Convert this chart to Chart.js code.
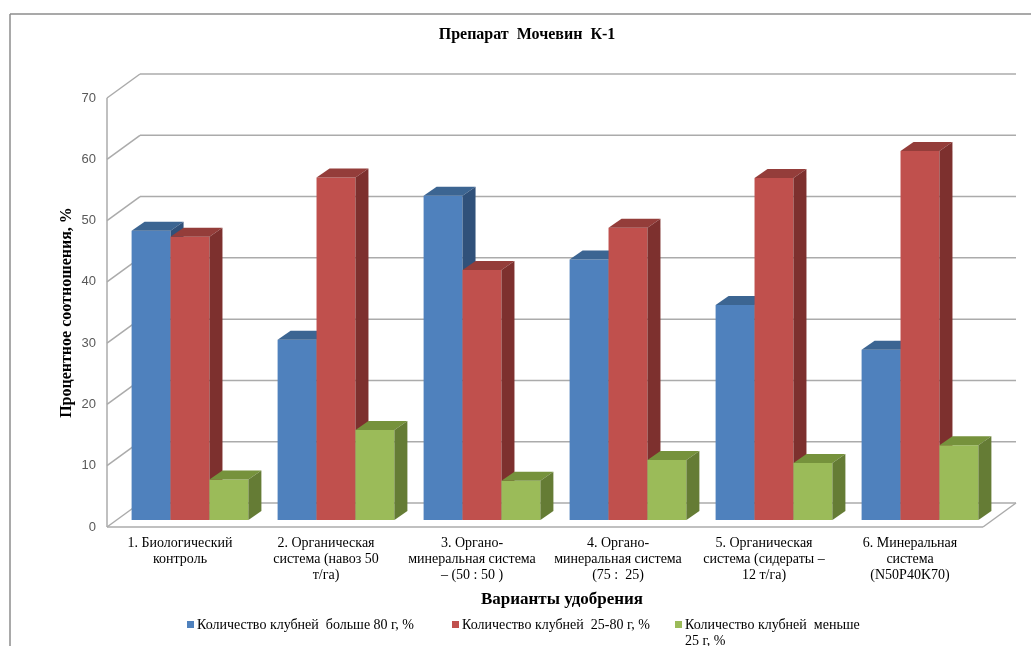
<!DOCTYPE html>
<html lang="ru">
<head>
<meta charset="utf-8">
<title>Препарат Мочевин К-1</title>
<script src="https://cdn.jsdelivr.net/npm/chart.js@4.4.1/dist/chart.umd.min.js"></script>
<style>
    html, body { margin: 0; padding: 0; background: #fff; }
    #wrap { width: 1031px; height: 646px; position: relative; }
</style>
</head>
<body>
<div id="wrap"><canvas id="chart" width="1031" height="646"></canvas></div>
<script>
// Fertiliser variants (multi-line axis labels)
const categories = [
    ['1. Биологический', 'контроль'],
    ['2. Органическая', 'система (навоз 50', 'т/га)'],
    ['3. Органо-', 'минеральная система', '– (50 : 50 )'],
    ['4. Органо-', 'минеральная система', '(75 :  25)'],
    ['5. Органическая', 'система (сидераты –', '12 т/га)'],
    ['6. Минеральная', 'система', '(N50P40K70)']
];

// Share of tubers by weight class, %
const bigTubers   = [47.2, 29.4, 52.9, 42.5, 35.1, 27.8];
const midTubers   = [46.2, 55.9, 40.8, 47.7, 55.8, 60.2];
const smallTubers = [6.6, 14.7, 6.4, 9.8, 9.3, 12.2];

const seriesNames = [
    'Количество клубней  больше 80 г, %',
    'Количество клубней  25-80 г, %',
    'Количество клубней  меньше\n25 г, %'
];

const yTicks = [0, 10, 20, 30, 40, 50, 60, 70];

const SERIF = '"Liberation Serif", "Times New Roman", serif';
const SANS = '"Liberation Sans", Arial, sans-serif';

// face colours: front / top / side
const palette = [
    { front: '#4F81BD', top: '#3c6592', side: '#30517a' },
    { front: '#C0504D', top: '#943d3a', side: '#7d302e' },
    { front: '#9BBB59', top: '#76923c', side: '#657c35' }
];

// oblique projection offsets
const WALL_DEPTH = { x: 33, y: -24 };
const BAR_SHIFT = { x: 10, y: -7 };
const BAR_DEPTH = { x: 13, y: -9 };

function poly(ctx, pts, fill) {
    ctx.beginPath();
    ctx.moveTo(pts[0][0], pts[0][1]);
    for (let i = 1; i < pts.length; i++) ctx.lineTo(pts[i][0], pts[i][1]);
    ctx.closePath();
    ctx.fillStyle = fill;
    ctx.fill();
}

function line(ctx, x1, y1, x2, y2) {
    ctx.beginPath();
    ctx.moveTo(x1, y1);
    ctx.lineTo(x2, y2);
    ctx.stroke();
}

const box3d = {
    id: 'box3d',
    beforeDraw(chart) {
        const { ctx, chartArea: area } = chart;
        const yScale = chart.scales.y;
        ctx.save();
        ctx.fillStyle = '#fff';
        ctx.fillRect(0, 0, chart.width, chart.height);

        // outer frame
        ctx.strokeStyle = '#8c8c8c';
        ctx.lineWidth = 1.5;
        line(ctx, 10, 14, chart.width, 14);
        line(ctx, 10, 14, 10, chart.height);

        // side wall, back wall and floor
        ctx.lineWidth = 1.5;
        ctx.strokeStyle = '#ababab';
        const L = area.left, R = area.right;
        line(ctx, L, yScale.getPixelForValue(yTicks[yTicks.length - 1]), L, yScale.getPixelForValue(0));
        yTicks.forEach(v => {
            const y = yScale.getPixelForValue(v);
            line(ctx, L, y, L + WALL_DEPTH.x, y + WALL_DEPTH.y);
            line(ctx, L + WALL_DEPTH.x, y + WALL_DEPTH.y, R + WALL_DEPTH.x, y + WALL_DEPTH.y);
        });
        const y0 = yScale.getPixelForValue(0);
        line(ctx, L, y0, R, y0);
        line(ctx, R, y0, R + WALL_DEPTH.x, y0 + WALL_DEPTH.y);
        ctx.restore();
    },
    beforeDatasetsDraw(chart) {
        const { ctx } = chart;
        const metas = chart.data.datasets.map((d, i) => chart.getDatasetMeta(i));
        ctx.save();
        ctx.translate(BAR_SHIFT.x, BAR_SHIFT.y);
        // left to right so each bar hides the side of its neighbour
        for (let i = 0; i < categories.length; i++) {
            metas.forEach((meta, s) => {
                const bar = meta.data[i];
                const { x, y, base, width } = bar;
                const l = x - width / 2, r = x + width / 2;
                bar.draw(ctx);
                poly(ctx, [[l, y], [r, y], [r + BAR_DEPTH.x, y + BAR_DEPTH.y], [l + BAR_DEPTH.x, y + BAR_DEPTH.y]], palette[s].top);
                poly(ctx, [[r, y], [r + BAR_DEPTH.x, y + BAR_DEPTH.y], [r + BAR_DEPTH.x, base + BAR_DEPTH.y], [r, base]], palette[s].side);
            });
        }
        ctx.restore();
        return false;
    },
    afterDraw(chart) {
        const { ctx } = chart;
        ctx.save();
        ctx.fillStyle = '#000';
        ctx.textAlign = 'center';
        ctx.textBaseline = 'middle';

        ctx.font = 'bold 16px ' + SERIF;
        ctx.fillText('Препарат  Мочевин  К-1', 527, 35);

        ctx.font = 'bold 17px ' + SERIF;
        ctx.fillText('Варианты удобрения', 562, 600);

        // legend
        const legendX = [187, 452, 675];
        ctx.font = '14px ' + SERIF;
        ctx.textAlign = 'left';
        chart.data.datasets.forEach((ds, i) => {
            const x = legendX[i];
            ctx.fillStyle = ds.backgroundColor;
            ctx.fillRect(x, 621, 7, 7);
            ctx.fillStyle = '#000';
            ds.label.split('\n').forEach((t, k) => {
                ctx.fillText(t, x + 10, 625 + k * 16);
            });
        });
        ctx.restore();
    }
};

new Chart(document.getElementById('chart'), {
    type: 'bar',
    data: {
        labels: categories,
        datasets: [bigTubers, midTubers, smallTubers].map((vals, i) => ({
            label: seriesNames[i],
            data: vals,
            backgroundColor: palette[i].front,
            borderWidth: 0,
            categoryPercentage: 0.8,
            barPercentage: 1
        }))
    },
    options: {
        responsive: false,
        animation: false,
        events: [],
        layout: { padding: { top: 98, right: 48, bottom: 0, left: 0 } },
        plugins: {
            legend: { display: false },
            title: { display: false },
            tooltip: { enabled: false }
        },
        scales: {
            x: {
                grid: { display: false, drawTicks: false },
                border: { display: false },
                ticks: {
                    color: '#000',
                    font: { family: SERIF, size: 14, lineHeight: '16px' },
                    padding: 8,
                    maxRotation: 0,
                    autoSkip: false
                },
                afterFit: (s) => { s.height = 119; }
            },
            y: {
                min: 0,
                max: 70,
                grid: { display: false, drawTicks: false },
                border: { display: false },
                afterBuildTicks: (s) => { s.ticks = yTicks.map(v => ({ value: v })); },
                ticks: {
                    color: '#595959',
                    font: { family: SANS, size: 13 },
                    padding: 11
                },
                title: {
                    display: true,
                    text: 'Процентное соотношения, %',
                    color: '#000',
                    font: { family: SERIF, size: 16, weight: 'bold' },
                    padding: { top: 57, bottom: 0 }
                },
                afterFit: (s) => { s.width = 107; }
            }
        }
    },
    plugins: [box3d]
});
</script>
</body>
</html>
